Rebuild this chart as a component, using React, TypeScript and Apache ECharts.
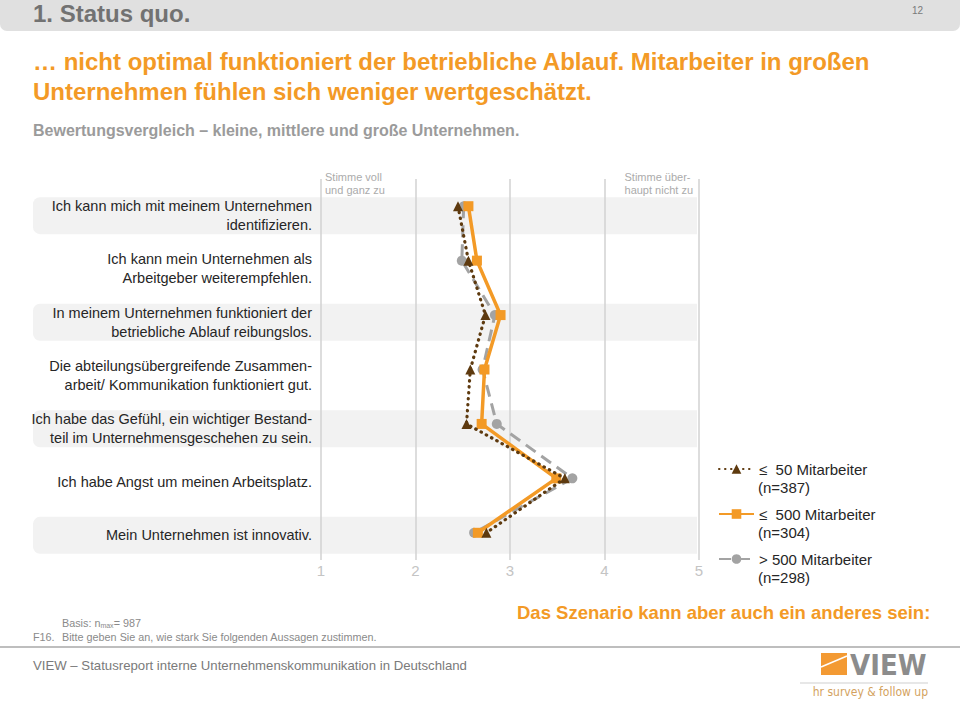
import React, { useEffect, useRef } from "react";
import * as echarts from "echarts";

const statements = [
  "Ich kann mich mit meinem Unternehmen\nidentifizieren.",
  "Ich kann mein Unternehmen als\nArbeitgeber weiterempfehlen.",
  "In meinem Unternehmen funktioniert der\nbetriebliche Ablauf reibungslos.",
  "Die abteilungsübergreifende Zusammen-\narbeit/ Kommunikation funktioniert gut.",
  "Ich habe das Gefühl, ein wichtiger Bestand-\nteil im Unternehmensgeschehen zu sein.",
  "Ich habe Angst um meinen Arbeitsplatz.",
  "Mein Unternehmen ist innovativ.",
];
const bandRows = [0, 2, 4, 6];

const seriesNames = ["≤  50 Mitarbeiter", "≤  500 Mitarbeiter", "> 500 Mitarbeiter"];
const seriesCounts = ["(n=387)", "(n=304)", "(n=298)"];
const small = [2.45, 2.56, 2.74, 2.58, 2.54, 3.58, 2.75];
const medium = [2.56, 2.65, 2.9, 2.73, 2.7, 3.49, 2.66];
const large = [2.51, 2.49, 2.84, 2.71, 2.86, 3.66, 2.62];
const scaleTicks = [1, 2, 3, 4, 5];

const ORANGE = "#F39A26";
const BROWN = "#5E3A0F";
const GRAY = "#A3A3A3";
const FONT = '"Liberation Sans", Arial, sans-serif';
const NARROW = '"Liberation Sans Narrow", "DejaVu Sans Condensed", "Liberation Sans", sans-serif';

export default function App() {
  const ref = useRef<HTMLDivElement>(null);
  useEffect(() => {
    document.body.style.margin = "0";
    const chart = echarts.init(ref.current!, null, { renderer: "svg" });
    const toPts = (arr: number[]) => arr.map((v, i) => [v, i]);
    const option: any = {
      animation: false,
      backgroundColor: "#ffffff",
      textStyle: { fontFamily: FONT },
      grid: [
        { left: 321, right: 261, top: 179, height: 381 },
        { left: 321, right: 261, top: 189, height: 373 },
      ],
      xAxis: [
        {
          type: "value",
          gridIndex: 0,
          min: scaleTicks[0],
          max: scaleTicks[scaleTicks.length - 1],
          interval: 1,
          axisLine: { show: false },
          axisTick: { show: false },
          axisLabel: { color: "#C4C4C4", fontSize: 15, margin: 3, fontFamily: FONT },
          splitLine: { show: true, lineStyle: { color: "#D2D2D2", width: 1.5 } },
          z: 1,
        },
        { type: "value", gridIndex: 1, min: 0, max: 1, show: false },
      ],
      yAxis: [
        {
          type: "category",
          gridIndex: 0,
          inverse: true,
          data: statements,
          axisLine: { show: false },
          axisTick: { show: false },
          axisLabel: { show: false },
          splitLine: { show: false },
        },
        {
          type: "category",
          gridIndex: 1,
          inverse: true,
          data: statements,
          axisLine: { show: false },
          axisTick: { show: false },
          axisLabel: {
            show: true,
            align: "right",
            margin: 9,
            fontSize: 14.5,
            lineHeight: 19,
            color: "#262626",
            fontFamily: FONT,
          },
          splitLine: { show: false },
        },
      ],
      legend: {
        orient: "vertical",
        left: 713,
        top: 455,
        padding: 5,
        itemWidth: 35,
        itemHeight: 12,
        itemGap: 27,
        data: seriesNames,
        textStyle: { fontSize: 15, color: "#262626", lineHeight: 18, fontFamily: FONT },
      },
      series: [
        {
          type: "custom",
          xAxisIndex: 1,
          yAxisIndex: 1,
          silent: true,
          z: -1,
          data: bandRows.map((r) => [0, r]),
          renderItem: (params: any, api: any) => {
            const p = api.coord([0, api.value(1)]);
            return {
              type: "rect",
              shape: { x: 33, y: p[1] - 18.5, width: 697 - 33, height: 37, r: [7, 0, 0, 7] },
              style: { fill: "#F2F2F2" },
            };
          },
        },
        {
          name: seriesNames[0],
          type: "line",
          xAxisIndex: 0,
          yAxisIndex: 0,
          data: toPts(small),
          symbol: "triangle",
          symbolSize: 10,
          z: 5,
          itemStyle: { color: BROWN },
          lineStyle: { color: BROWN, width: 3.2, type: [0.5, 5.5], cap: "round" },
        },
        {
          name: seriesNames[1],
          type: "line",
          xAxisIndex: 0,
          yAxisIndex: 0,
          data: toPts(medium),
          symbol: "rect",
          symbolSize: 10,
          z: 4,
          itemStyle: { color: ORANGE },
          lineStyle: { color: ORANGE, width: 3.5 },
        },
        {
          name: seriesNames[2],
          type: "line",
          xAxisIndex: 0,
          yAxisIndex: 0,
          data: toPts(large),
          symbol: "circle",
          symbolSize: 10,
          z: 3,
          itemStyle: { color: GRAY },
          lineStyle: { color: GRAY, width: 3, type: [12, 7] },
        },
      ],
      graphic: [
        { type: "rect", shape: { x: 0, y: -10, width: 960, height: 41, r: 7 }, style: { fill: "#E0E0E0" }, z: 0 },
        { type: "text", left: 33, top: 1, style: { text: "1. Status quo.", font: `bold 24px ${FONT}`, fill: "#727272" } },
        { type: "text", left: 912, top: 5, style: { text: "12", font: `10px ${FONT}`, fill: "#7A7A7A" } },
        {
          type: "text",
          left: 33,
          top: 46,
          style: {
            text: "… nicht optimal funktioniert der betriebliche Ablauf. Mitarbeiter in großen\nUnternehmen fühlen sich weniger wertgeschätzt.",
            font: `bold 24px ${FONT}`,
            lineHeight: 30,
            fill: ORANGE,
          },
        },
        {
          type: "text",
          left: 33,
          top: 122,
          style: { text: "Bewertungsvergleich – kleine, mittlere und große Unternehmen.", font: `bold 16px ${FONT}`, fill: "#9B9B9B" },
        },
        {
          type: "text",
          left: 325,
          top: 170,
          style: { text: "Stimme voll\nund ganz zu", font: `11px ${FONT}`, lineHeight: 13, fill: "#ABABAB" },
        },
        {
          type: "text",
          right: 960 - 693,
          top: 170,
          style: { text: "Stimme über-\nhaupt nicht zu", font: `11px ${FONT}`, lineHeight: 13, fill: "#ABABAB", align: "right" },
        },
        ...seriesCounts.map((c, i) => ({
          type: "text",
          left: 758,
          top: 480 + i * 45,
          style: { text: c, font: `15px ${FONT}`, fill: "#262626" },
        })),
        {
          type: "text",
          left: 517,
          top: 603,
          style: { text: "Das Szenario kann aber auch ein anderes sein:", font: `bold 18.5px ${FONT}`, fill: ORANGE },
        },
        {
          type: "text",
          left: 62,
          top: 617,
          style: {
            text: "Basis: n{sub|max}= 987",
            font: `10.8px ${FONT}`,
            fill: "#8A8A8A",
            rich: { sub: { fontSize: 7, fill: "#8A8A8A", padding: [5, 0, 0, 0] } },
          },
        },
        { type: "text", left: 33, top: 631, style: { text: "F16.", font: `10.8px ${FONT}`, fill: "#8A8A8A" } },
        {
          type: "text",
          left: 62,
          top: 631,
          style: { text: "Bitte geben Sie an, wie stark Sie folgenden Aussagen zustimmen.", font: `10.8px ${FONT}`, fill: "#8A8A8A" },
        },
        { type: "line", shape: { x1: 0, y1: 647, x2: 960, y2: 647 }, style: { stroke: "#A8A8A8", lineWidth: 1.5 } },
        {
          type: "text",
          left: 33,
          top: 659,
          style: { text: "VIEW – Statusreport interne Unternehmenskommunikation in Deutschland", font: `13.2px ${FONT}`, fill: "#7A7A7A" },
        },
        { type: "rect", shape: { x: 821, y: 653, width: 26, height: 22 }, style: { fill: "#F39A33" } },
        { type: "line", shape: { x1: 821, y1: 667, x2: 847, y2: 656 }, style: { stroke: "#ffffff", lineWidth: 1.5 } },
        {
          type: "text",
          left: 850,
          top: 650,
          style: { text: "VIEW", font: `bold 29px ${NARROW}`, fill: "#8C8C8C" },
        },
        { type: "line", shape: { x1: 800, y1: 683, x2: 928, y2: 683 }, style: { stroke: "#CFCFCF", lineWidth: 1 } },
        {
          type: "text",
          right: 960 - 928,
          top: 686,
          style: { text: "hr survey & follow up", font: `12px ${NARROW}`, fill: "#D3A25E" },
        },
      ],
    };
    chart.setOption(option);
    return () => chart.dispose();
  }, []);
  return <div ref={ref} style={{ width: 960, height: 702 }} />;
}
